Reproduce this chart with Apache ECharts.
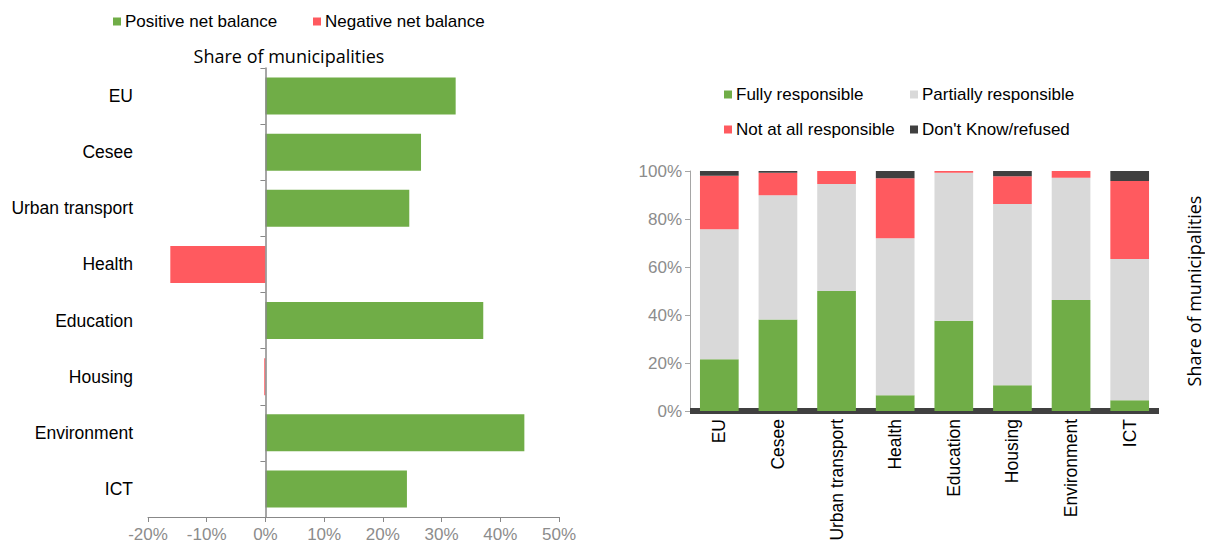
<!DOCTYPE html>
<html><head><meta charset="utf-8">
<script src="https://cdn.jsdelivr.net/npm/echarts@6/dist/echarts.min.js"></script>
<style>html,body{margin:0;padding:0;background:#fff}#c{width:1205px;height:546px}</style>
</head><body><div id="c"></div>
<script>
// ---- data ----
const categories = ['EU', 'Cesee', 'Urban transport', 'Health', 'Education', 'Housing', 'Environment', 'ICT'];
const netBalance = [32.4, 26.5, 24.5, -16.2, 37.1, -0.2, 44.1, 24.1];
const netAxis = { min: -20, max: 50, interval: 10 };
const fullyResponsible = [21.6, 38.1, 50.0, 6.6, 37.6, 10.7, 46.2, 4.5];
const partiallyResponsible = [54.1, 51.8, 44.6, 65.4, 61.7, 75.5, 51.0, 58.8];
const notAtAllResponsible = [22.3, 9.4, 5.4, 25.0, 0.7, 11.6, 2.8, 32.5];
const dontKnow = [2.0, 0.7, 0.0, 3.0, 0.0, 2.2, 0.0, 4.2];
const shareAxis = { min: 0, max: 100, interval: 20 };
const titleText = 'Share of municipalities';

const GREEN = '#70AD47', RED = '#FF5A5F', LIGHT = '#D9D9D9', DARK = '#404040';
const FONT = 'Liberation Sans, Arial, sans-serif';
const TITLE_FONT = 'Open Sans, sans-serif';

const chart = echarts.init(document.getElementById('c'), null, { renderer: 'svg' });

function legendItem(name, left, top) {
  return {
    data: [name], left: left, top: top, padding: 0, icon: 'rect',
    itemWidth: 8, itemHeight: 8, itemGap: 0, selectedMode: false,
    textStyle: { fontFamily: FONT, fontSize: 17, color: '#000', padding: [0, 0, 0, -1] }
  };
}

const option = {
  animation: false,
  backgroundColor: '#fff',
  legend: [
    legendItem('Positive net balance', 113, 13),
    legendItem('Negative net balance', 313, 13),
    legendItem('Fully responsible', 724, 86),
    legendItem('Partially responsible', 910, 86),
    legendItem('Not at all responsible', 724, 121),
    legendItem("Don't Know/refused", 910, 121)
  ],
  graphic: [
    { type: 'text', x: 289, y: 56,
      style: { text: titleText, align: 'center', verticalAlign: 'middle',
               font: '18px ' + TITLE_FONT, fill: '#000' } },
    { type: 'text', x: 1194, y: 291, rotation: Math.PI / 2,
      style: { text: titleText, align: 'center', verticalAlign: 'middle',
               font: '18px ' + TITLE_FONT, fill: '#000' } }
  ],
  grid: [
    { left: 148, top: 68, width: 411, height: 449, containLabel: false },
    { left: 690, top: 171, width: 469, height: 240, containLabel: false }
  ],
  xAxis: [
    { type: 'value', gridIndex: 0, min: netAxis.min, max: netAxis.max, interval: netAxis.interval,
      axisLine: { show: true, lineStyle: { color: '#888', width: 1 } },
      axisTick: { show: true, length: 5, lineStyle: { color: '#888' } },
      splitLine: { show: false },
      axisLabel: { formatter: '{value}%', color: '#8C8C8C', fontFamily: FONT, fontSize: 17, margin: 9 } },
    { type: 'category', gridIndex: 1, data: categories,
      axisLine: { show: true, lineStyle: { color: DARK, width: 6, cap: 'butt' } },
      axisTick: { show: false },
      axisLabel: { rotate: 90, color: '#000', fontFamily: FONT, fontSize: 17.5, margin: 8, interval: 0 } }
  ],
  yAxis: [
    { type: 'category', gridIndex: 0, data: categories, inverse: true, position: 'left',
      axisLine: { show: false, onZero: false }, axisTick: { show: false },
      axisLabel: { color: '#000', fontFamily: FONT, fontSize: 17.5, margin: 15 } },
    { type: 'category', gridIndex: 0, data: categories, inverse: true, position: 'left', z: 5,
      axisLine: { show: true, onZero: true, onZeroAxisIndex: 0, lineStyle: { color: '#888', width: 1.5 } },
      axisTick: { show: true, length: 5, lineStyle: { color: '#888' } },
      axisLabel: { show: false } },
    { type: 'value', gridIndex: 1, min: shareAxis.min, max: shareAxis.max, interval: shareAxis.interval,
      axisLine: { show: true, lineStyle: { color: '#A6A6A6', width: 1 } },
      axisTick: { show: true, length: 5, lineStyle: { color: '#A6A6A6' } },
      splitLine: { show: false },
      axisLabel: { formatter: '{value}%', color: '#8C8C8C', fontFamily: FONT, fontSize: 17, margin: 8 } }
  ],
  series: [
    { name: 'Positive net balance', type: 'bar', xAxisIndex: 0, yAxisIndex: 0, stack: 'net',
      barCategoryGap: '34%', itemStyle: { color: GREEN },
      data: netBalance.map(v => v >= 0 ? v : '-') },
    { name: 'Negative net balance', type: 'bar', xAxisIndex: 0, yAxisIndex: 0, stack: 'net',
      barCategoryGap: '34%', itemStyle: { color: RED },
      data: netBalance.map(v => v < 0 ? v : '-') },
    { name: 'Fully responsible', type: 'bar', xAxisIndex: 1, yAxisIndex: 2, stack: 'resp',
      barCategoryGap: '34%', itemStyle: { color: GREEN }, data: fullyResponsible },
    { name: 'Partially responsible', type: 'bar', xAxisIndex: 1, yAxisIndex: 2, stack: 'resp',
      barCategoryGap: '34%', itemStyle: { color: LIGHT }, data: partiallyResponsible },
    { name: 'Not at all responsible', type: 'bar', xAxisIndex: 1, yAxisIndex: 2, stack: 'resp',
      barCategoryGap: '34%', itemStyle: { color: RED }, data: notAtAllResponsible },
    { name: "Don't Know/refused", type: 'bar', xAxisIndex: 1, yAxisIndex: 2, stack: 'resp',
      barCategoryGap: '34%', itemStyle: { color: DARK }, data: dontKnow }
  ]
};
chart.setOption(option);
</script>
</body></html>
